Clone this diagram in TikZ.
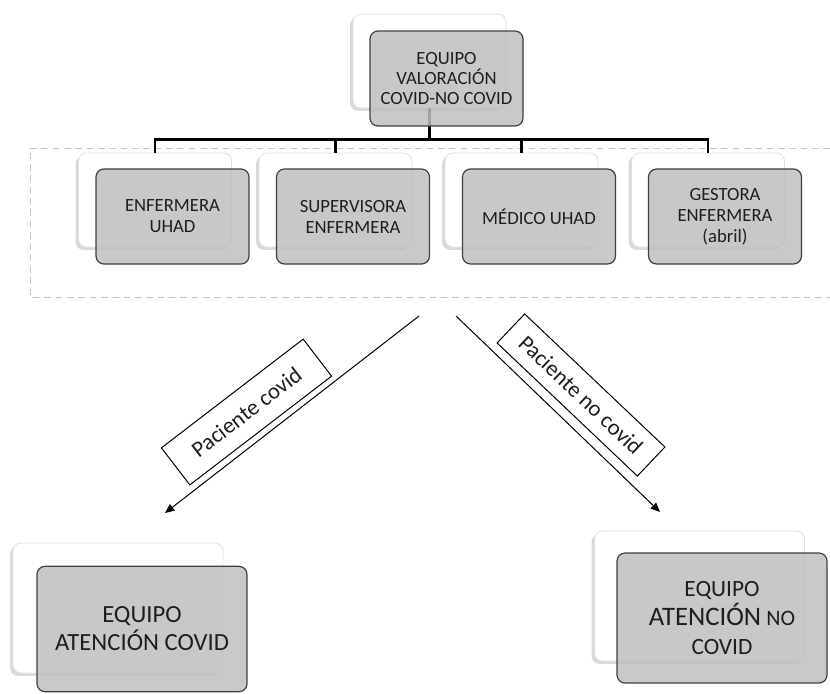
\documentclass[tikz,border=0pt]{standalone}
\usepackage{fontspec}
\setmainfont{Carlito}
\usetikzlibrary{arrows.meta,shadows}
\definecolor{txt}{HTML}{1E1E1E}
\definecolor{frontfill}{HTML}{BFBFBF}
\definecolor{frontline}{HTML}{404040}
\definecolor{dashgray}{HTML}{C4C4C4}
\begin{document}
\begin{tikzpicture}[x=0.75pt,y=-0.75pt,
  backbox/.style={rounded corners=6pt, fill=white, draw=gray!25, line width=0.6pt,
    drop shadow={shadow xshift=-2.2pt,shadow yshift=-2.2pt,opacity=0.3},
    minimum width=114.75pt, minimum height=70.5pt, inner sep=0pt},
  frontbox/.style={rounded corners=6pt, fill=frontfill, fill opacity=0.85, text opacity=1,
    draw=frontline, line width=0.9pt, minimum width=114.75pt, minimum height=71.25pt,
    align=center, text=txt, inner sep=2pt, font=\fontsize{14}{15.75}\selectfont},
  bigback/.style={backbox, minimum width=157.5pt, minimum height=97.5pt},
  bigfront/.style={frontbox, minimum width=157.5pt, minimum height=94pt},
  conn/.style={draw=black, line width=2pt},
  arr/.style={draw=black, line width=0.75pt, -{Triangle[length=7pt,width=6pt]}},
  lab/.style={draw=black, line width=0.75pt, fill=white, text=txt, inner sep=2pt,
    font=\fontsize{17}{20}\selectfont},
  dashbox/.style={draw=dashgray, line width=0.75pt, dash pattern=on 5pt off 3.5pt}
]
\useasboundingbox (0,0) rectangle (830,693);

% dashed frame
\draw[dashbox] (830,148) -- (30,148) -- (30,297) -- (830,297);

% back boxes
\node[backbox] (tb) at (429.5,61) {};
\node[backbox] (b1) at (155,200) {};
\node[backbox] (b2) at (335.5,200) {};
\node[backbox] (b3) at (521.5,200) {};
\node[backbox] (b4) at (708,200) {};
\node[bigback] (bl) at (118,608) {};
\node[bigback] (br) at (699.5,596) {};

% connectors
\coordinate (bar) at (0,139.5);
\draw[conn] (tb.south) -- (tb.south |- bar);
\foreach \n in {b1,b2,b3,b4}
  \draw[conn] (tb.south |- bar) -| (\n.north);

% front boxes
\node[frontbox, font=\fontsize{14}{15.25}\selectfont] (tf) at (446.5,78.5) {EQUIPO\\VALORACIÓN\\COVID-NO COVID};
\node[frontbox] (f1) at (172.5,216.5) {ENFERMERA\\UHAD};
\node[frontbox] (f2) at (353,216.5) {SUPERVISORA\\ENFERMERA};
\node[frontbox] (f3) at (539,216.5) {MÉDICO UHAD};
\node[frontbox] (f4) at (725,216.5) {GESTORA\\ENFERMERA\\(abril)};
\node[bigfront, font=\fontsize{18.5}{21}\selectfont] (fl) at (142,629) {EQUIPO\\ATENCIÓN COVID};
\node[bigfront, minimum height=97.5pt, font=\fontsize{17.5}{21.5}\selectfont] (fr) at (722,618)
  {EQUIPO\\{\fontsize{20}{21.5}\selectfont ATENCIÓN} {\fontsize{16.5}{21.5}\selectfont NO}\\COVID};

% arrows
\coordinate (a1s) at (419,316);
\coordinate (a1e) at (165,513);
\coordinate (a2s) at (456,316);
\coordinate (a2e) at (660,512);
\draw[arr] (a1s) -- (a1e);
\draw[arr] (a2s) -- (a2e);

% labels
\node[lab, rotate=37.5, minimum width=134pt, minimum height=35pt] (l1) at (246.5,412) {Paciente covid};
\node[lab, rotate=-43.5, minimum width=145pt, minimum height=30pt] (l2) at (581,395) {Paciente no covid};
\end{tikzpicture}
\end{document}
